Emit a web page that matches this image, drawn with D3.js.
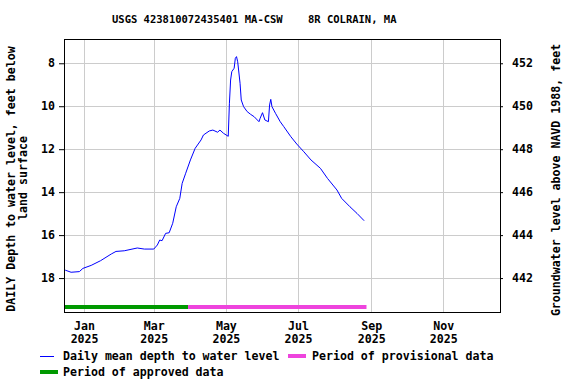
<!DOCTYPE html>
<html>
<head>
<meta charset="utf-8">
<script src="https://cdn.jsdelivr.net/npm/d3@7"></script>
<style>
  body { margin: 0; background: #fff; }
  text { font-family: "DejaVu Sans Mono", "Liberation Mono", monospace; font-weight: bold; font-size: 11.6px; fill: #000; }
  .title { font-size: 10.5px; white-space: pre; }
</style>
</head>
<body>
<div id="chart"></div>
<script>
//Chart data
var dates = ["2024-12-16","2024-12-21","2024-12-28","2024-12-31","2025-01-07","2025-01-15","2025-01-24","2025-01-28",
    "2025-02-04","2025-02-15","2025-02-21","2025-03-01","2025-03-04","2025-03-06","2025-03-08","2025-03-11",
    "2025-03-14","2025-03-17","2025-03-20","2025-03-23","2025-03-25","2025-03-28","2025-04-01","2025-04-05",
    "2025-04-10","2025-04-12","2025-04-17","2025-04-20","2025-04-24","2025-04-26","2025-04-29","2025-05-03",
    "2025-05-04","2025-05-05","2025-05-06","2025-05-08","2025-05-09","2025-05-10","2025-05-11","2025-05-13",
    "2025-05-14","2025-05-16","2025-05-19","2025-05-22","2025-05-25","2025-05-29","2025-05-30","2025-06-01",
    "2025-06-03","2025-06-06","2025-06-07","2025-06-08","2025-06-09","2025-06-12","2025-06-16","2025-06-19",
    "2025-06-25","2025-06-30","2025-07-06","2025-07-12","2025-07-20","2025-07-26","2025-08-03","2025-08-07",
    "2025-08-14","2025-08-20","2025-08-26"];
var depths = [17.63,17.73,17.70,17.55,17.41,17.19,16.88,16.76,
    16.73,16.60,16.65,16.65,16.46,16.23,16.26,15.92,
    15.89,15.45,14.68,14.29,13.59,13.12,12.50,11.96,
    11.57,11.34,11.15,11.11,11.21,11.11,11.26,11.40,
    9.86,8.78,8.39,8.23,7.77,7.69,7.93,8.93,
    9.71,10.02,10.25,10.38,10.49,10.72,10.56,10.30,
    10.64,10.72,9.94,9.68,10.02,10.33,10.72,10.95,
    11.42,11.76,12.12,12.50,12.89,13.36,13.90,14.29,
    14.68,14.99,15.33];

var depthTicks = [8, 10, 12, 14, 16, 18];
var elevTicks = [442, 444, 446, 448, 450, 452];
var monthTicks = ["2025-01-01","2025-03-01","2025-05-01","2025-07-01","2025-09-01","2025-11-01"];
var approvedPeriod = ["2024-12-15","2025-03-30"];
var provisionalPeriod = ["2025-03-30","2025-08-28"];
var datum = 460; // elevation = datum - depth

var title = "USGS 423810072435401 MA-CSW    8R COLRAIN, MA";

//SVG dimensions
var svgWidth = 576;
var svgHeight = 384;
var plot = { left: 64, right: 500, top: 39, bottom: 312 };

var parseDate = d3.timeParse("%Y-%m-%d");
var data = dates.map((d, i) => ({ date: parseDate(d), depth: depths[i] }));

var svg = d3.select("#chart")
    .append("svg")
    .attr("width", svgWidth)
    .attr("height", svgHeight);

var xScale = d3.scaleTime()
    .domain([parseDate("2024-12-15"), parseDate("2025-12-19")])
    .range([plot.left, plot.right]);

var yScale = d3.scaleLinear()
    .domain([6.87, 19.58])
    .range([plot.top, plot.bottom]);

var yRight = d3.scaleLinear()
    .domain([datum - 6.87, datum - 19.58])
    .range([plot.top, plot.bottom]);

//Title
svg.append("text")
    .attr("class", "title")
    .attr("xml:space", "preserve")
    .attr("x", 112)
    .attr("y", 23)
    .text(title);

//Gridlines
var grid = svg.append("g");
grid.selectAll(".hgrid")
    .data(depthTicks)
    .enter()
    .append("line")
    .attr("x1", plot.left)
    .attr("x2", plot.right)
    .attr("y1", d => Math.round(yScale(d)) + 0.5)
    .attr("y2", d => Math.round(yScale(d)) + 0.5)
    .attr("stroke", "#cccccc");
grid.selectAll(".vgrid")
    .data(monthTicks)
    .enter()
    .append("line")
    .attr("x1", d => Math.round(xScale(parseDate(d))) + 0.5)
    .attr("x2", d => Math.round(xScale(parseDate(d))) + 0.5)
    .attr("y1", plot.top)
    .attr("y2", plot.bottom)
    .attr("stroke", "#cccccc");

//Left axis
var leftAxis = d3.axisLeft(yScale).tickValues(depthTicks).tickSize(5).tickPadding(4);
var yAxis = svg.append("g")
    .attr("transform", `translate(${plot.left}, 0)`)
    .call(leftAxis);
yAxis.select(".domain").remove();

//Right axis
var rightAxis = d3.axisRight(yRight).tickValues(elevTicks).tickSize(3).tickPadding(9);
var yAxisR = svg.append("g")
    .attr("transform", `translate(${plot.right}, 0)`)
    .call(rightAxis);
yAxisR.select(".domain").remove();

//Bottom axis with two-line labels
var bottomAxis = d3.axisBottom(xScale)
    .tickValues(monthTicks.map(parseDate))
    .tickSize(0)
    .tickFormat("");
var xAxis = svg.append("g")
    .attr("transform", `translate(0, ${plot.bottom})`)
    .call(bottomAxis);
xAxis.select(".domain").remove();
xAxis.selectAll(".tick").each(function(d) {
    var t = d3.select(this).append("text")
        .attr("text-anchor", "middle")
        .attr("fill", "#000");
    t.append("tspan").attr("x", 0).attr("y", 18).text(d3.timeFormat("%b")(d));
    t.append("tspan").attr("x", 0).attr("y", 31).text(d3.timeFormat("%Y")(d));
});
svg.selectAll("g").attr("font-family", null).attr("font-size", null);
svg.selectAll(".tick line").attr("stroke", "#000");

//Approval period bars
var barY = 307;
svg.append("line")
    .attr("x1", xScale(parseDate(approvedPeriod[0])))
    .attr("x2", xScale(parseDate(approvedPeriod[1])))
    .attr("y1", barY).attr("y2", barY)
    .attr("stroke", "#009900").attr("stroke-width", 4);
svg.append("line")
    .attr("x1", xScale(parseDate(provisionalPeriod[0])))
    .attr("x2", xScale(parseDate(provisionalPeriod[1])))
    .attr("y1", barY).attr("y2", barY)
    .attr("stroke", "#ee44dd").attr("stroke-width", 4);

//Data line
var line = d3.line()
    .x(d => xScale(d.date))
    .y(d => yScale(d.depth));
svg.append("path")
    .datum(data)
    .attr("d", line)
    .attr("fill", "none")
    .attr("stroke", "#0000ff")
    .attr("stroke-width", 1);

//Plot border
svg.append("rect")
    .attr("x", plot.left + 0.5)
    .attr("y", plot.top + 0.5)
    .attr("width", plot.right - plot.left)
    .attr("height", plot.bottom - plot.top)
    .attr("fill", "none")
    .attr("stroke", "#000");

//Axis titles
svg.append("text")
    .attr("transform", "translate(15, 179) rotate(-90)")
    .attr("text-anchor", "middle")
    .text("DAILY Depth to water level, feet below");
svg.append("text")
    .attr("transform", "translate(27, 178) rotate(-90)")
    .attr("text-anchor", "middle")
    .text("land surface");
svg.append("text")
    .attr("transform", "translate(560, 180) rotate(-90)")
    .attr("text-anchor", "middle")
    .text("Groundwater level above NAVD 1988, feet");

//Legend
var legend = svg.append("g");
legend.append("line")
    .attr("x1", 40).attr("x2", 54).attr("y1", 356.5).attr("y2", 356.5)
    .attr("stroke", "#0000ff");
legend.append("text").attr("x", 63).attr("y", 360).text("Daily mean depth to water level");
legend.append("line")
    .attr("x1", 288).attr("x2", 306).attr("y1", 356).attr("y2", 356)
    .attr("stroke", "#ee44dd").attr("stroke-width", 4);
legend.append("text").attr("x", 312).attr("y", 360).text("Period of provisional data");
legend.append("line")
    .attr("x1", 40).attr("x2", 58).attr("y1", 372).attr("y2", 372)
    .attr("stroke", "#009900").attr("stroke-width", 4);
legend.append("text").attr("x", 63).attr("y", 376).text("Period of approved data");
</script>
</body>
</html>
